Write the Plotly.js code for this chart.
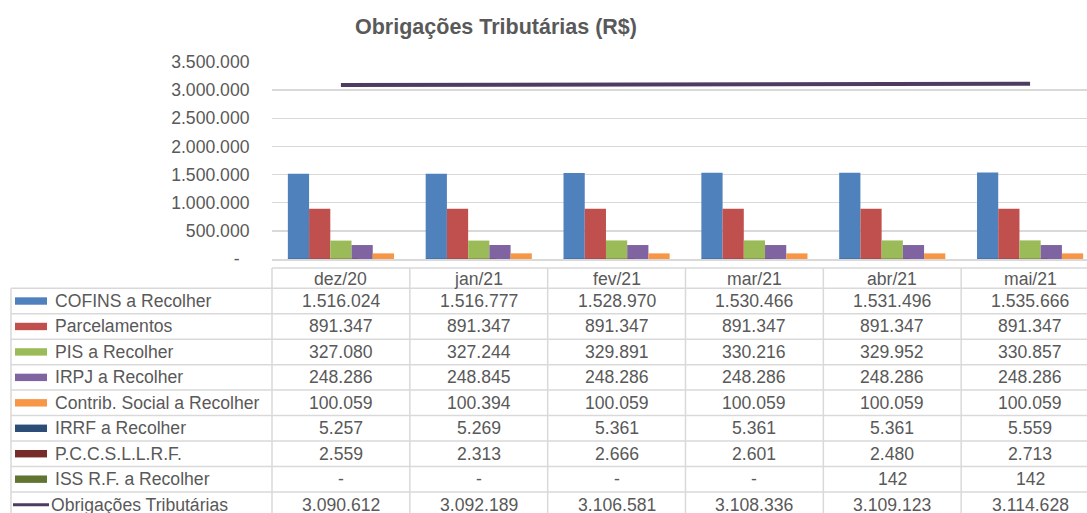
<!DOCTYPE html>
<html><head><meta charset="utf-8">
<script src="https://cdn.plot.ly/plotly-3.0.1.min.js"></script>
<style>html,body{margin:0;padding:0;overflow:hidden;background:#fff}#chart{width:1100px;height:513px}</style>
</head><body><div id="chart"></div>
<script>
// ---- data ----
const categories = ['dez/20','jan/21','fev/21','mar/21','abr/21','mai/21'];
const cofins = [1516024,1516777,1528970,1530466,1531496,1535666];
const parcelamentos = [891347,891347,891347,891347,891347,891347];
const pis = [327080,327244,329891,330216,329952,330857];
const irpj = [248286,248845,248286,248286,248286,248286];
const contribSocial = [100059,100394,100059,100059,100059,100059];
const irrf = [5257,5269,5361,5361,5361,5559];
const pccsllrf = [2559,2313,2666,2601,2480,2713];
const issRF = [0,0,0,0,142,142];
const obrigacoes = [3090612,3092189,3106581,3108336,3109123,3114628];
const yTickValues = [0,500000,1000000,1500000,2000000,2500000,3000000,3500000];
const seriesNames = ['COFINS a Recolher','Parcelamentos','PIS a Recolher','IRPJ a Recolher',
  'Contrib. Social a Recolher','IRRF a Recolher','P.C.C.S.L.L.R.F.','ISS R.F. a Recolher','Obrigações Tributárias'];

// ---- styles ----
const seriesData = [cofins, parcelamentos, pis, irpj, contribSocial, irrf, pccsllrf, issRF, obrigacoes];
const seriesColors = ['#4F81BD','#C0504D','#9BBB59','#8064A2','#F79646','#2C4D75','#772C2A','#5F7530','#4D3B62'];
const seriesKind = ['bar','bar','bar','bar','bar','bar2','bar2','bar2','line'];
const FONT = 'Liberation Sans, Arial, sans-serif';
const TXT = '#595959';
const GRID = '#D9D9D9';
const FS = 17.6;

function fmt(v){ return v === 0 ? '-' : String(v).replace(/\B(?=(\d{3})+(?!\d))/g, '.'); }

// pixel geometry of plot & table
const W = 1100, H = 513;
const PL = 272, PR = 1099, PT = 62, PB = 259;
const xp = px => (px - PL) / (PR - PL);
const yp = py => (PB - py) / (PB - PT);
const headTop = 268, rowTop = 288.3, rowH = 25.45, leftX = 11;
const colW = (PR - PL) / categories.length;

const traces = [];
seriesData.forEach((d, i) => {
  if (seriesKind[i] === 'line') {
    traces.push({type:'scatter', mode:'lines', x:categories, y:d, name:seriesNames[i],
      line:{color:seriesColors[i], width:4}, yaxis:'y', showlegend:false, hoverinfo:'skip'});
  } else {
    traces.push({type:'bar', x:categories, y:d, name:seriesNames[i],
      marker:{color:seriesColors[i], line:{width:0}}, yaxis: seriesKind[i]==='bar2' ? 'y2' : 'y',
      showlegend:false, hoverinfo:'skip'});
  }
});

const shapes = [], annotations = [];
const lineStyle = {color:GRID, width:1.5};
// table top border (over data columns only)
shapes.push({type:'line', xref:'paper', yref:'paper', x0:0, x1:1, y0:yp(headTop), y1:yp(headTop), line:lineStyle});
// row borders
for (let r = 0; r <= seriesNames.length; r++) {
  const y = rowTop + r*rowH;
  shapes.push({type:'line', xref:'paper', yref:'paper', x0:xp(leftX), x1:1, y0:yp(y), y1:yp(y), line:lineStyle});
}
// vertical borders
shapes.push({type:'line', xref:'paper', yref:'paper', x0:xp(leftX), x1:xp(leftX), y0:yp(rowTop), y1:yp(H+10), line:lineStyle});
for (let c = 0; c <= categories.length; c++) {
  const x = PL + c*colW;
  shapes.push({type:'line', xref:'paper', yref:'paper', x0:xp(x), x1:xp(x), y0:yp(headTop), y1:yp(H+10), line:lineStyle});
}
// header
categories.forEach(c => annotations.push({xref:'x', yref:'paper', x:c, y:yp(headTop + (rowTop-headTop)/2 + 0.5),
  xanchor:'center', yanchor:'middle', text:c, showarrow:false, font:{family:FONT, size:FS, color:TXT}}));
// rows
seriesNames.forEach((nm, i) => {
  const cy = rowTop + i*rowH + rowH/2;
  if (seriesKind[i] === 'line') {
    shapes.push({type:'line', xref:'paper', yref:'paper', x0:xp(13), x1:xp(49), y0:yp(cy), y1:yp(cy),
      line:{color:seriesColors[i], width:3}});
    annotations.push({xref:'paper', yref:'paper', x:xp(49), y:yp(cy), xanchor:'left', yanchor:'middle',
      text:nm, showarrow:false, font:{family:FONT, size:FS, color:TXT}});
  } else {
    shapes.push({type:'rect', xref:'paper', yref:'paper', x0:xp(15), x1:xp(47), y0:yp(cy-3.7), y1:yp(cy+3.7),
      fillcolor:seriesColors[i], line:{width:0}});
    annotations.push({xref:'paper', yref:'paper', x:xp(53), y:yp(cy), xanchor:'left', yanchor:'middle',
      text:nm, showarrow:false, font:{family:FONT, size:FS, color:TXT}});
  }
  seriesData[i].forEach((v, j) => annotations.push({xref:'x', yref:'paper', x:categories[j], y:yp(cy),
    xanchor:'center', yanchor:'middle', text:fmt(v), showarrow:false, font:{family:FONT, size:FS, color:TXT}}));
});

const yRange = [0, 3500000];
const layout = {
  width:W, height:H,
  margin:{l:PL, r:W-PR, t:PT, b:H-PB, pad:0},
  paper_bgcolor:'#fff', plot_bgcolor:'#fff',
  font:{family:FONT, size:FS, color:TXT},
  title:{text:'<b>Obrigações Tributárias (R$)</b>', x:496/W, xanchor:'center', y:1-26.5/H, yanchor:'middle',
    font:{family:FONT, size:21.5, color:TXT}},
  barmode:'group', bargap:0.23, bargroupgap:0,
  showlegend:false,
  xaxis:{type:'category', range:[-0.5, categories.length-0.5], showticklabels:false, ticks:'',
    showgrid:false, zeroline:false, showline:true, linecolor:GRID, linewidth:1.5, fixedrange:true},
  yaxis:{range:yRange, tickvals:yTickValues,
    ticktext:yTickValues.map(v => v === 0 ? '-\u00a0\u00a0' : fmt(v)),
    ticks:'outside', ticklen:18, tickcolor:'rgba(0,0,0,0)',
    showgrid:true, gridcolor:GRID, gridwidth:1.5, zeroline:false, showline:false,
    tickfont:{family:FONT, size:FS, color:TXT}, fixedrange:true},
  yaxis2:{range:yRange, overlaying:'y', visible:false, fixedrange:true},
  shapes:shapes, annotations:annotations
};
Plotly.newPlot('chart', traces, layout, {staticPlot:true, displayModeBar:false});
</script>
</body></html>
